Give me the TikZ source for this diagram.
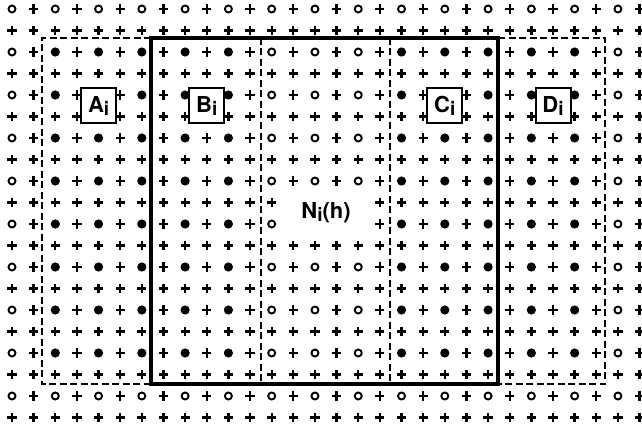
\documentclass[tikz,border=0pt]{standalone}
\usepackage{fontspec}
\setmainfont{TeX Gyre Heros}
\begin{document}
\begin{tikzpicture}[x=1pt,y=-1pt,
  plusline/.style={line width=2.3pt},
  ring/.style={line width=1.9pt},
  solidframe/.style={line width=3.8pt},
  dashframe/.style={line width=2.5pt,dash pattern=on 7pt off 3.5pt},
  labelbox/.style={draw,fill=white,line width=2pt,minimum width=35pt,minimum height=35pt,inner sep=0pt,font=\fontsize{22}{22}\selectfont\bfseries},
  nlabel/.style={fill=white,minimum width=84pt,minimum height=42pt,inner sep=0pt,font=\fontsize{22}{22}\selectfont\bfseries}]
\useasboundingbox[fill=white] (0,0) rectangle (642,433);
% grid of symbols
\foreach \j in {0,...,19}{\foreach \k in {0,...,29}{
  \pgfmathsetmacro\x{12+21.64*\k}
  \pgfmathsetmacro\y{9+21.5*\j}
  \pgfmathtruncatemacro\t{(isodd(\j) || isodd(\k)) ? 0 : ((\j>=2 && \j<=16 && ((\k>=2 && \k<=10) || (\k>=18 && \k<=26))) ? 2 : 1)}
  \ifcase\t
    \draw[plusline] (\x-4.6,\y) -- (\x+4.6,\y) (\x,\y-4.6) -- (\x,\y+4.6);
  \or
    \draw[ring] (\x,\y) circle (3.5);
  \or
    \fill (\x,\y) circle (4.6);
  \fi
}}
% frames
\coordinate (a1) at (42,38);
\coordinate (a2) at (42,384);
\coordinate (s1) at (151,38);
\coordinate (s2) at (151,384);
\coordinate (m1) at (261,38);
\coordinate (m2) at (261,384);
\coordinate (n1) at (390,38);
\coordinate (n2) at (390,384);
\coordinate (t1) at (498,38);
\coordinate (t2) at (498,384);
\coordinate (d1) at (605,38);
\coordinate (d2) at (605,384);
\draw[dashframe] (s1) -- (a1) -- (a2) -- (s2);
\draw[dashframe] (t1) -- (d1) -- (d2) -- (t2);
\draw[dashframe] (m1) -- (m2);
\draw[dashframe] (n1) -- (n2);
\draw[solidframe] (s1) rectangle (t2);
% labels
\node[labelbox] (A) at (98.6,106) {A\raisebox{-3pt}{\fontsize{19}{19}\selectfont i}};
\node[labelbox] (B) at (206.8,106) {B\raisebox{-3pt}{\fontsize{19}{19}\selectfont i}};
\node[labelbox] (C) at (444.8,106) {C\raisebox{-3pt}{\fontsize{19}{19}\selectfont i}};
\node[labelbox] (D) at (553,106) {D\raisebox{-3pt}{\fontsize{19}{19}\selectfont i}};
\node[nlabel] (N) at (326,213) {N\raisebox{-3pt}{\fontsize{19}{19}\selectfont i}(h)};
\end{tikzpicture}
\end{document}
